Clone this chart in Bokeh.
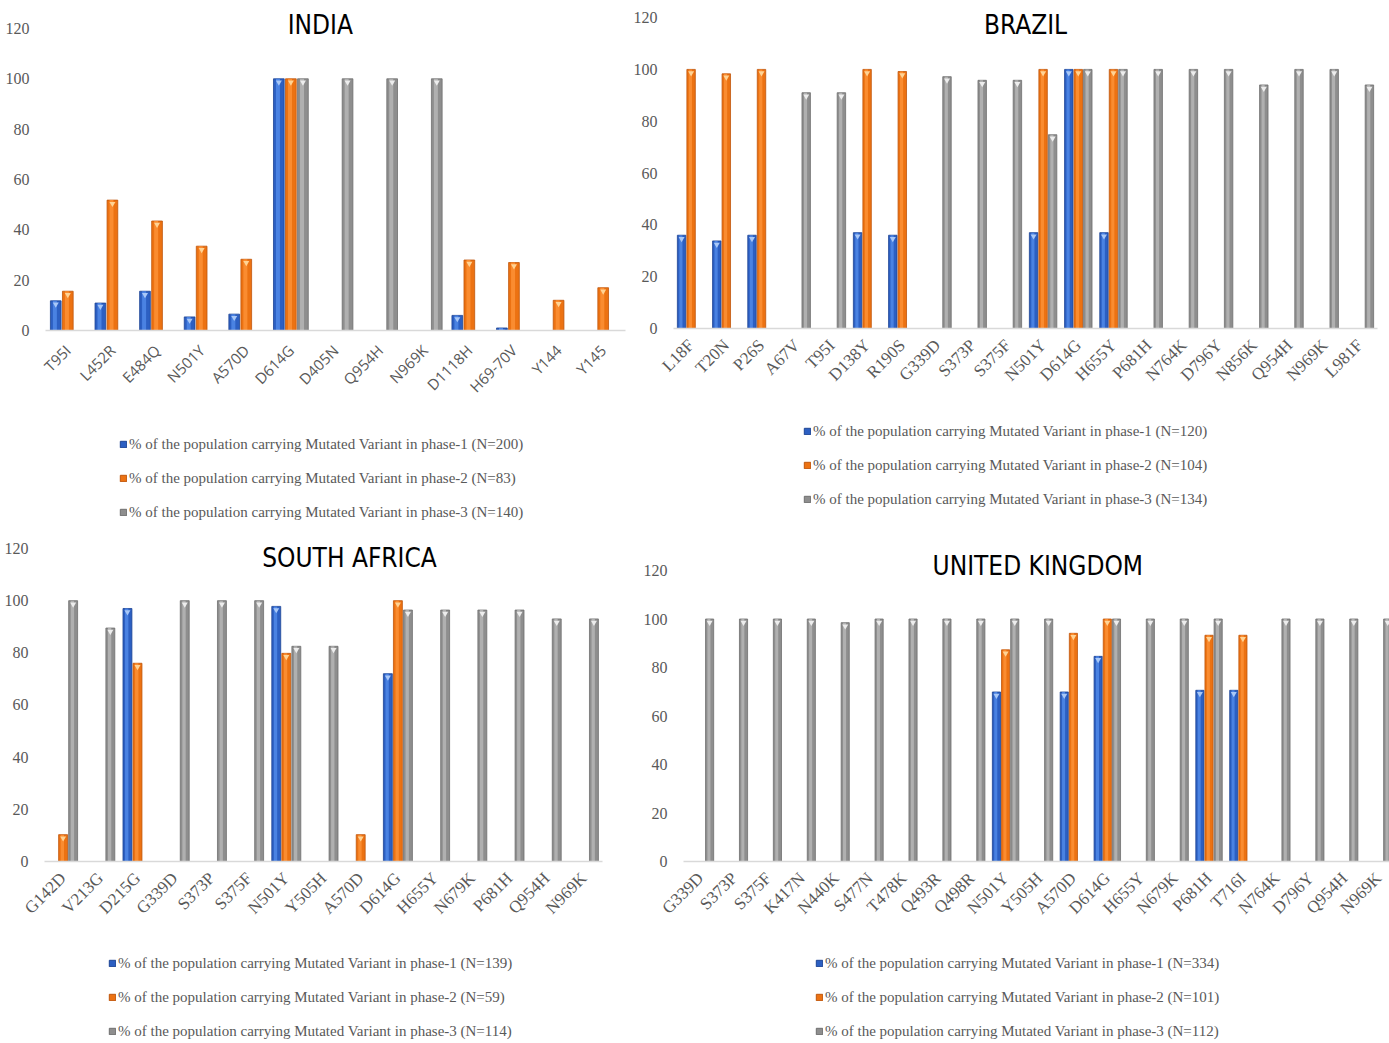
from bokeh.plotting import figure
from bokeh.models import (FactorRange, Range1d, FixedTicker, Legend, LegendItem,
                          Label, ColumnDataSource)
from bokeh.layouts import column, row
from bokeh.embed import file_html
from bokeh.resources import INLINE
from bokeh.core.properties import value
from bokeh.transform import dodge

# ---------------- data ----------------
india_cats = ["T95I", "L452R", "E484Q", "N501Y", "A570D", "D614G", "D405N",
              "Q954H", "N969K", "D1118H", "H69-70V", "Y144", "Y145"]
india_p1 = [11.8, 10.9, 15.6, 5.4, 6.5, 100, 0, 0, 0, 6.0, 1.0, 0, 0]
india_p2 = [15.6, 51.8, 43.5, 33.5, 28.3, 100, 0, 0, 0, 28.0, 27.0, 12.0, 17.0]
india_p3 = [0, 0, 0, 0, 0, 100, 100, 100, 100, 0, 0, 0, 0]
india_n = [200, 83, 140]

brazil_cats = ["L18F", "T20N", "P26S", "A67V", "T95I", "D138Y", "R190S", "G339D",
               "S373P", "S375F", "N501Y", "D614G", "H655Y", "P681H", "N764K",
               "D796Y", "N856K", "Q954H", "N969K", "L981F"]
brazil_p1 = [36, 33.8, 36, 0, 0, 37, 36, 0, 0, 0, 37, 100, 37, 0, 0, 0, 0, 0, 0, 0]
brazil_p2 = [100, 98.3, 100, 0, 0, 100, 99.2, 0, 0, 0, 100, 100, 100, 0, 0, 0, 0, 0, 0, 0]
brazil_p3 = [0, 0, 0, 91, 91, 0, 0, 97.2, 95.8, 95.8, 74.8, 100, 100, 100, 100,
             100, 94, 100, 100, 94]
brazil_n = [120, 104, 134]

sa_cats = ["G142D", "V213G", "D215G", "G339D", "S373P", "S375F", "N501Y", "Y505H",
           "A570D", "D614G", "H655Y", "N679K", "P681H", "Q954H", "N969K"]
sa_p1 = [0, 0, 97, 0, 0, 0, 97.8, 0, 0, 72, 0, 0, 0, 0, 0]
sa_p2 = [10.3, 0, 76, 0, 0, 0, 79.8, 0, 10.3, 100, 0, 0, 0, 0, 0]
sa_p3 = [100, 89.5, 0, 100, 100, 100, 82.5, 82.5, 0, 96.4, 96.4, 96.4, 96.4, 93, 93]
sa_n = [139, 59, 114]

uk_cats = ["G339D", "S373P", "S375F", "K417N", "N440K", "S477N", "T478K", "Q493R",
           "Q498R", "N501Y", "Y505H", "A570D", "D614G", "H655Y", "N679K", "P681H",
           "T716I", "N764K", "D796Y", "Q954H", "N969K"]
uk_p1 = [0, 0, 0, 0, 0, 0, 0, 0, 0, 69.9, 0, 69.9, 84.6, 0, 0, 70.6, 70.6, 0, 0, 0, 0]
uk_p2 = [0, 0, 0, 0, 0, 0, 0, 0, 0, 87.3, 0, 94.1, 100, 0, 0, 93.3, 93.3, 0, 0, 0, 0]
uk_p3 = [100, 100, 100, 100, 98.5, 100, 100, 100, 100, 100, 100, 0, 100, 100, 100,
         100, 0, 100, 100, 100, 100]
uk_n = [334, 101, 112]

y_ticks = [0, 20, 40, 60, 80, 100, 120]

# ---------------- style ----------------
COLORS = ["#2C5FC2", "#EC7212", "#8E8E8E"]
EDGES = ["#1D4494", "#BF560B", "#6E6E6E"]
SHINE = ["#4A82E2", "#FA8C30", "#B0B0B0"]
TRI = ["#A9C8F7", "#FFD394", "#EDEDED"]
SERIF = "Liberation Serif"
SANS = "Open Sans"
TITLE_FONT = "'Liberation Sans Narrow', 'DejaVu Sans Condensed', sans-serif"
TXT = "#595959"


def make_chart(title, cats, series, left, right, fw, fh, y_end, title_x, title_y,
               xfont, xsize, xstand, below):
    p = figure(x_range=FactorRange(*cats, range_padding=0), y_range=Range1d(0, y_end),
               frame_width=fw, frame_height=fh, min_border_left=left,
               min_border_right=right, min_border_top=0, min_border_bottom=below,
               output_backend="svg", toolbar_location=None, tools="")
    p.outline_line_color = None
    p.grid.visible = False

    px_per_unit = fh / y_end
    tri_drop = 3.5 / px_per_unit
    offsets = [-0.27, 0.0, 0.27]
    for k, vals in enumerate(series):
        sel = [(c, v) for c, v in zip(cats, vals) if v > 0]
        src = ColumnDataSource(dict(x=[c for c, _ in sel], top=[v for _, v in sel],
                                    tri=[v - tri_drop for _, v in sel]))
        p.vbar(x=dodge("x", offsets[k], range=p.x_range), top="top", bottom=0,
               width=0.24, source=src, fill_color=COLORS[k], line_color=EDGES[k],
               line_width=0.8)
        # lighter inner stripe imitating the shaded (gradient) bars
        p.vbar(x=dodge("x", offsets[k] - 0.02, range=p.x_range), top="top", bottom=0,
               width=0.09, source=src, fill_color=SHINE[k], line_color=None)
        p.scatter(x=dodge("x", offsets[k], range=p.x_range), y="tri", source=src,
                  marker="inverted_triangle", size=6, fill_color=TRI[k],
                  line_color=None)

    p.yaxis.ticker = FixedTicker(ticks=y_ticks)
    p.yaxis.axis_line_color = None
    p.yaxis.major_tick_line_color = None
    p.yaxis.minor_tick_line_color = None
    p.yaxis.major_label_text_font = SERIF
    p.yaxis.major_label_text_font_size = "16px"
    p.yaxis.major_label_text_color = TXT
    p.yaxis.major_label_standoff = 10

    p.xaxis.axis_line_color = "#D9D9D9"
    p.xaxis.axis_line_width = 1.5
    p.xaxis.major_tick_line_color = None
    p.xaxis.minor_tick_line_color = None
    p.xaxis.major_label_orientation = 0.785398
    p.xaxis.major_label_text_font = xfont
    p.xaxis.major_label_text_font_size = xsize
    p.xaxis.major_label_text_color = TXT
    p.xaxis.major_label_standoff = xstand

    p.add_layout(Label(x=title_x, y=title_y, text=title, text_align="center",
                       text_baseline="middle", text_font=TITLE_FONT,
                       text_font_size="26px", text_color="black"))
    return p


def make_legend(ns, width, height, lx, ly):
    p = figure(width=width, height=height, x_range=Range1d(0, 1), y_range=Range1d(0, 1),
               min_border=0, x_axis_location=None, y_axis_location=None,
               output_backend="svg", toolbar_location=None, tools="")
    p.outline_line_color = None
    p.grid.visible = False
    items = []
    for k in range(3):
        # a bar far below the visible area, only so the legend can draw its swatch
        r = p.vbar(x=[0.5], top=[-20.0], bottom=[-21.0], width=0.01,
                   fill_color=COLORS[k], line_color=EDGES[k])
        lab = f"% of the population carrying Mutated Variant in phase-{k + 1} (N={ns[k]})"
        items.append(LegendItem(label=value(lab), renderers=[r]))
    leg = Legend(items=items, orientation="vertical", location=(lx, ly),
                 glyph_width=8, glyph_height=8, label_standoff=2, spacing=14,
                 label_height=20, label_text_font=SERIF, label_text_font_size="15px",
                 label_text_color=TXT, border_line_alpha=0, background_fill_alpha=0,
                 padding=0, margin=0)
    p.add_layout(leg, "center")
    return p


c_india = make_chart("INDIA", india_cats, [india_p1, india_p2, india_p3],
                     45, 5, 580, 330, 131.1, 6.16, 121.2, SANS, "15px", 11, 85)
l_india = make_legend(india_n, 630, 115, 74, 8)

c_brazil = make_chart("BRAZIL", brazil_cats, [brazil_p1, brazil_p2, brazil_p3],
                      36, 3, 704, 328, 126.6, 10.0, 117, SERIF, "17px", 8, 85)
l_brazil = make_legend(brazil_n, 743, 117, 130, 21)

c_sa = make_chart("SOUTH AFRICA", sa_cats, [sa_p1, sa_p2, sa_p3],
                  44, 38, 558, 331, 126.9, 8.2, 116.5, SERIF, "17px", 8, 80)
l_sa = make_legend(sa_n, 640, 100, 64, 0)

c_uk = make_chart("UNITED KINGDOM", uk_cats, [uk_p1, uk_p2, uk_p3],
                  34, 2, 712, 331, 136.5, 10.45, 122, SERIF, "17px", 8, 80)
l_uk = make_legend(uk_n, 748, 100, 132, 0)

layout = column(row(column(c_india, l_india), column(c_brazil, l_brazil)),
                row(column(c_sa, l_sa), column(c_uk, l_uk)))
open("out.html", "w").write(file_html(layout, INLINE))
